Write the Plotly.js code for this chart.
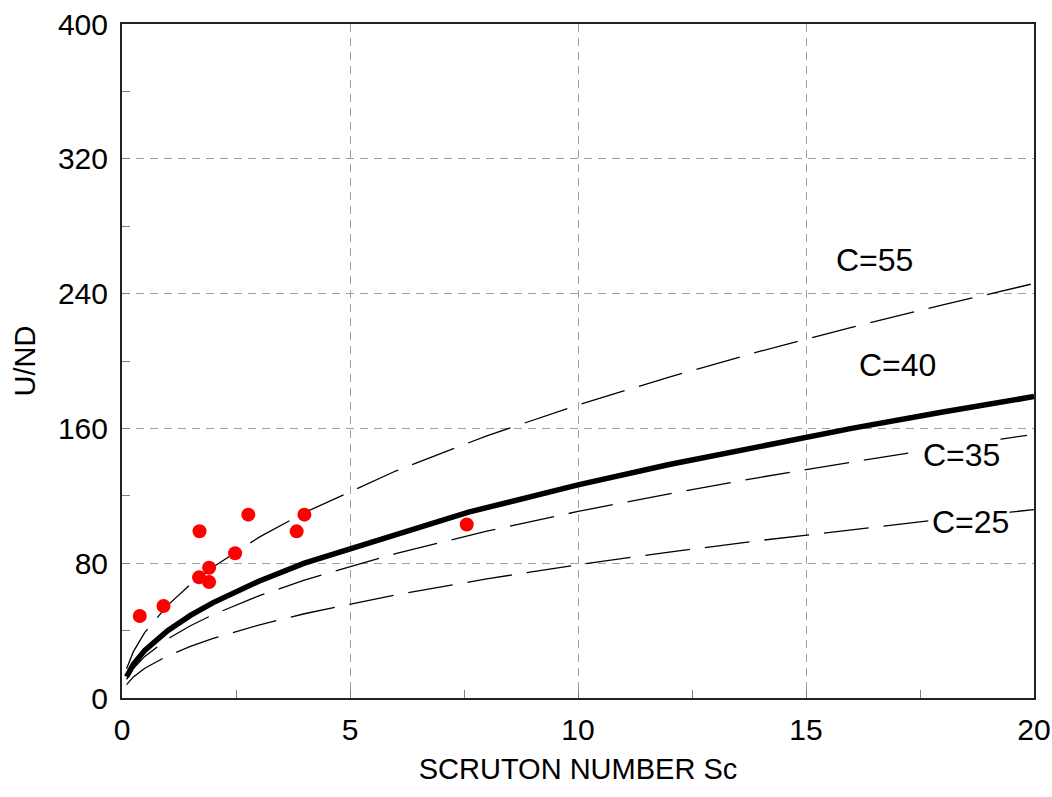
<!DOCTYPE html>
<html>
<head>
<meta charset="utf-8">
<script src="https://cdn.plot.ly/plotly-3.0.1.min.js"></script>
<style>html,body{margin:0;padding:0;background:#fff;}#chart{width:1052px;height:797px;}</style>
</head>
<body>
<div id="chart"></div>
<script>
// Curve sample positions (Scruton number)
const scCurve = [0.1, 0.25, 0.5, 1, 1.5, 2, 3, 4, 6, 8, 10, 12, 14, 16, 18, 20];
const c55 = [17.4, 27.5, 38.9, 55, 67.4, 77.8, 95.3, 110, 134.7, 155.6, 173.9, 190.5, 205.8, 220, 233.3, 246];
const c35 = [11.1, 17.5, 24.7, 35, 42.9, 49.5, 60.6, 70, 85.7, 99, 110.7, 121.2, 131, 140, 148.5, 156.5];
const c25 = [7.9, 12.5, 17.7, 25, 30.6, 35.4, 43.3, 50, 61.2, 70.7, 79.1, 86.6, 93.5, 100, 106.1, 111.8];
const scC40 = [0.1, 0.25, 0.5, 1, 1.5, 2, 3, 4, 7.6, 10, 12, 14, 16, 18, 20];
const c40 = [12.6, 20, 28.3, 40, 49, 56.6, 69.3, 80, 110.3, 126.5, 138.6, 149.7, 160, 169.7, 178.9];
// Measured points
const scPts = [0.39, 0.91, 1.70, 1.69, 1.91, 1.91, 2.48, 2.77, 3.83, 4.0, 7.56];
const undPts = [48.7, 54.6, 99, 71.6, 77.3, 68.8, 85.9, 108.8, 98.9, 108.8, 103];
// Curve labels
const labelText = ['C=55', 'C=40', 'C=35', 'C=25'];
const labelX = [16.5, 17.0, 18.4, 18.6];
const labelY = [260, 197.5, 144, 104.5];

const font = 'Liberation Sans, Arial, sans-serif';
const dashStyle = '45px,15px';
const traces = [
  {x: scCurve, y: c55, mode: 'lines', line: {color: '#000', width: 1.3, dash: dashStyle}, hoverinfo: 'skip'},
  {x: scCurve, y: c35, mode: 'lines', line: {color: '#000', width: 1.3, dash: dashStyle}, hoverinfo: 'skip'},
  {x: scCurve, y: c25, mode: 'lines', line: {color: '#000', width: 1.3, dash: dashStyle}, hoverinfo: 'skip'},
  {x: scC40, y: c40, mode: 'lines', line: {color: '#000', width: 5.5}, hoverinfo: 'skip'},
  {x: scPts, y: undPts, mode: 'markers', marker: {color: '#ff0000', size: 14, line: {width: 0}}}
];

const annotations = labelText.map((t, i) => ({
  x: labelX[i], y: labelY[i], xref: 'x', yref: 'y', text: t, showarrow: false,
  font: {family: font, size: 32, color: '#000'}, bgcolor: '#ffffff', borderpad: 0
}));

const layout = {
  width: 1052, height: 797,
  margin: {l: 122, r: 18, t: 24, b: 99},
  paper_bgcolor: '#fff', plot_bgcolor: '#fff',
  showlegend: false,
  font: {family: font, size: 30, color: '#000'},
  xaxis: {
    range: [0, 20], tickvals: [0, 5, 10, 15, 20], ticktext: ['0', '5', '10', '15', '20'],
    showgrid: true, gridcolor: '#a0a0a0', griddash: '8px,6px', gridwidth: 1,
    zeroline: false, showline: true, linecolor: '#222', linewidth: 2, mirror: true,
    ticks: 'inside', ticklen: 8, tickcolor: '#808080', tickwidth: 1,
    minor: {tickvals: [2.5, 7.5, 12.5, 17.5], ticks: 'inside', ticklen: 8, tickcolor: '#808080', showgrid: false},
    tickfont: {family: font, size: 30}, ticklabelstandoff: 4,
    title: {text: 'SCRUTON NUMBER Sc', font: {family: font, size: 29}, standoff: 14}
  },
  yaxis: {
    range: [0, 400], tickvals: [0, 80, 160, 240, 320, 400], ticktext: ['0', '80', '160', '240', '320', '400'],
    showgrid: true, gridcolor: '#a0a0a0', griddash: '8px,6px', gridwidth: 1,
    zeroline: false, showline: true, linecolor: '#222', linewidth: 2, mirror: true,
    ticks: 'inside', ticklen: 8, tickcolor: '#808080', tickwidth: 1,
    minor: {tickvals: [40, 120, 200, 280, 360], ticks: 'inside', ticklen: 8, tickcolor: '#808080', showgrid: false},
    tickfont: {family: font, size: 30}, ticklabelstandoff: 6,
    title: {text: 'U/ND', font: {family: font, size: 29}, standoff: 14}
  },
  annotations: annotations
};

Plotly.newPlot('chart', traces, layout, {displayModeBar: false, staticPlot: true});
</script>
</body>
</html>
